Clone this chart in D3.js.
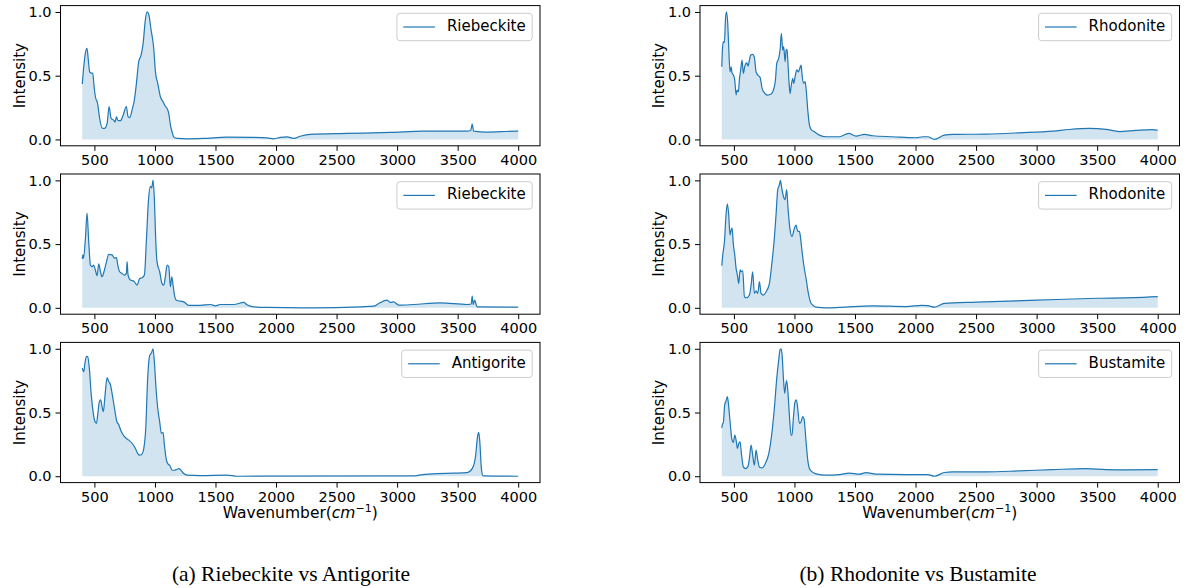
<!DOCTYPE html>
<html>
<head>
<meta charset="utf-8">
<script src="https://cdn.jsdelivr.net/npm/d3@7"></script>
<style>
  body { margin: 0; background: #fff; }
  svg text { font-family: "DejaVu Sans", sans-serif; }
</style>
</head>
<body>
<div id="chart"></div>
<script>
// spectra: [wavenumber, intensity]
var riebeckite1 = [[400,0.435],[412,0.57],[425,0.675],[439,0.715],[450,0.62],[461,0.53],[475,0.52],[486,0.52],[497,0.42],[508,0.335],[527,0.28],[541,0.18],[563,0.09],[583,0.086],[605,0.126],[621,0.257],[638,0.165],[660,0.15],[670,0.136],[682,0.178],[695,0.147],[715,0.147],[737,0.19],[764,0.257],[778,0.178],[792,0.17],[811,0.23],[830,0.31],[847,0.44],[866,0.61],[885,0.66],[902,0.75],[921,0.94],[935,1.0],[949,0.98],[968,0.86],[990,0.715],[1004,0.53],[1023,0.44],[1045,0.335],[1067,0.296],[1086,0.26],[1100,0.243],[1114,0.204],[1128,0.113],[1141,0.06],[1155,0.02],[1183,0.008],[1265,0.005],[1400,0.008],[1595,0.018],[1800,0.016],[1926,0.012],[1981,0.005],[2036,0.016],[2091,0.02],[2146,0.008],[2200,0.025],[2284,0.04],[2586,0.047],[2944,0.055],[3220,0.065],[3578,0.065],[3608,0.07],[3620,0.12],[3632,0.065],[3742,0.058],[3900,0.062],[4000,0.065]];

var riebeckite2 = [[400,0.383],[404,0.415],[410,0.39],[426,0.546],[439,0.743],[453,0.52],[467,0.336],[481,0.323],[494,0.336],[508,0.297],[522,0.252],[536,0.346],[550,0.283],[563,0.244],[583,0.297],[600,0.362],[618,0.42],[646,0.415],[665,0.39],[682,0.394],[693,0.336],[709,0.283],[728,0.27],[748,0.257],[764,0.27],[770,0.362],[778,0.257],[797,0.218],[825,0.21],[852,0.178],[874,0.23],[894,0.236],[913,0.257],[929,0.52],[946,0.835],[962,0.953],[973,0.94],[984,1.0],[995,0.86],[1006,0.546],[1017,0.362],[1039,0.283],[1059,0.19],[1073,0.178],[1086,0.244],[1100,0.336],[1114,0.323],[1128,0.165],[1139,0.244],[1150,0.178],[1161,0.1],[1177,0.06],[1210,0.052],[1238,0.047],[1279,0.02],[1375,0.02],[1458,0.026],[1500,0.016],[1540,0.026],[1650,0.026],[1733,0.042],[1760,0.024],[1816,0.008],[1926,0.003],[2300,0.0],[2700,0.008],[2807,0.013],[2848,0.034],[2917,0.06],[2945,0.042],[2972,0.047],[3013,0.021],[3137,0.026],[3357,0.039],[3578,0.026],[3612,0.03],[3620,0.092],[3628,0.026],[3640,0.06],[3661,0.008],[4000,0.005]];

var antigorite = [[400,0.848],[412,0.82],[420,0.874],[434,0.94],[445,0.937],[458,0.848],[472,0.664],[489,0.507],[503,0.433],[517,0.415],[527,0.48],[541,0.585],[552,0.6],[563,0.546],[574,0.507],[588,0.638],[605,0.774],[618,0.743],[632,0.72],[646,0.65],[668,0.52],[687,0.423],[700,0.407],[720,0.354],[748,0.31],[784,0.283],[819,0.249],[839,0.218],[858,0.178],[874,0.165],[894,0.176],[908,0.218],[924,0.375],[940,0.77],[957,0.948],[971,0.966],[984,1.0],[995,0.9],[1009,0.69],[1023,0.533],[1039,0.428],[1053,0.336],[1067,0.344],[1078,0.244],[1095,0.126],[1111,0.092],[1122,0.087],[1141,0.047],[1160,0.047],[1183,0.055],[1199,0.06],[1215,0.047],[1238,0.021],[1265,0.008],[1375,0.005],[1595,0.008],[1678,0.0],[3137,0.002],[3192,0.01],[3330,0.021],[3468,0.024],[3578,0.029],[3620,0.06],[3647,0.152],[3666,0.323],[3674,0.344],[3683,0.27],[3696,0.06],[3710,0.003],[4000,0.0]];

var rhodonite1 = [[400,0.57],[405,0.70],[413,0.767],[422,0.76],[430,0.937],[438,1.0],[449,0.91],[457,0.73],[468,0.53],[477,0.57],[485,0.52],[496,0.505],[507,0.466],[518,0.35],[526,0.387],[537,0.374],[545,0.466],[556,0.545],[567,0.623],[578,0.518],[589,0.57],[606,0.6],[617,0.576],[628,0.623],[639,0.662],[656,0.667],[669,0.644],[683,0.53],[697,0.505],[716,0.487],[733,0.4],[752,0.366],[779,0.348],[807,0.356],[826,0.387],[843,0.466],[854,0.597],[870,0.636],[881,0.70],[892,0.832],[903,0.70],[911,0.728],[923,0.61],[931,0.70],[939,0.707],[948,0.57],[956,0.44],[964,0.36],[972,0.413],[986,0.48],[994,0.44],[1005,0.49],[1019,0.545],[1033,0.53],[1044,0.557],[1055,0.584],[1063,0.505],[1077,0.44],[1088,0.453],[1096,0.4],[1110,0.23],[1124,0.113],[1137,0.079],[1165,0.06],[1206,0.034],[1261,0.021],[1371,0.021],[1448,0.047],[1509,0.026],[1578,0.039],[1647,0.029],[1812,0.021],[2005,0.013],[2060,0.021],[2100,0.021],[2156,0.0],[2238,0.034],[2307,0.039],[2582,0.042],[2857,0.052],[3133,0.065],[3270,0.078],[3435,0.086],[3573,0.079],[3683,0.062],[3820,0.071],[3950,0.077],[4000,0.073]];

var rhodonite2 = [[400,0.33],[408,0.415],[422,0.52],[435,0.73],[446,0.816],[457,0.73],[468,0.572],[477,0.61],[485,0.625],[496,0.493],[507,0.415],[518,0.31],[529,0.257],[540,0.19],[551,0.297],[562,0.283],[573,0.29],[587,0.087],[606,0.079],[628,0.1],[642,0.178],[655,0.283],[669,0.113],[683,0.131],[697,0.113],[711,0.205],[724,0.113],[744,0.1],[766,0.126],[793,0.19],[815,0.362],[834,0.546],[848,0.73],[862,0.927],[876,0.966],[884,1.0],[895,0.94],[909,0.874],[922,0.848],[936,0.927],[947,0.78],[964,0.61],[980,0.56],[1000,0.625],[1013,0.65],[1027,0.6],[1035,0.6],[1041,0.6],[1049,0.56],[1060,0.467],[1077,0.336],[1096,0.23],[1115,0.113],[1132,0.047],[1151,0.021],[1179,0.005],[1261,0.0],[1371,0.003],[1646,0.016],[1922,0.01],[2050,0.02],[2100,0.018],[2156,0.005],[2238,0.035],[2500,0.045],[3000,0.06],[3500,0.075],[3800,0.08],[4000,0.088]];

var bustamite = [[400,0.38],[405,0.407],[413,0.423],[424,0.559],[435,0.59],[446,0.625],[457,0.546],[471,0.4],[482,0.297],[496,0.265],[507,0.323],[518,0.283],[529,0.218],[540,0.257],[551,0.27],[562,0.178],[578,0.073],[595,0.06],[614,0.073],[628,0.139],[642,0.244],[655,0.165],[669,0.087],[683,0.205],[697,0.126],[711,0.071],[733,0.066],[760,0.1],[788,0.178],[815,0.35],[834,0.533],[854,0.77],[870,0.913],[881,0.992],[890,1.0],[898,0.953],[909,0.77],[920,0.65],[928,0.717],[936,0.75],[947,0.65],[958,0.48],[972,0.323],[980,0.323],[991,0.454],[1005,0.585],[1016,0.6],[1027,0.533],[1041,0.415],[1055,0.428],[1068,0.467],[1079,0.45],[1096,0.27],[1110,0.126],[1124,0.06],[1146,0.034],[1179,0.018],[1261,0.008],[1371,0.013],[1454,0.024],[1536,0.016],[1591,0.029],[1674,0.016],[1922,0.013],[2032,0.013],[2100,0.013],[2156,0.0],[2238,0.029],[2307,0.034],[2582,0.034],[2857,0.042],[3133,0.052],[3408,0.06],[3573,0.052],[3738,0.05],[4000,0.052]];

var leftSeries = [riebeckite1, riebeckite2, antigorite];
var rightSeries = [rhodonite1, rhodonite2, bustamite];
var leftNames = ["Riebeckite", "Riebeckite", "Antigorite"];
var rightNames = ["Rhodonite", "Rhodonite", "Bustamite"];
var captions = ["(a) Riebeckite vs Antigorite", "(b) Rhodonite vs Bustamite"];
var xTicks = [500, 1000, 1500, 2000, 2500, 3000, 3500, 4000];
var yTicks = [0, 0.5, 1.0];

var blue = "#1f77b4";
var panelW = 479.5, panelH = 140.2;
var colX = [60.5, 700];
var rowY = [5.6, 174, 342.4];

var svg = d3.select("#chart")
  .append("svg")
    .attr("width", 1186)
    .attr("height", 588);

var x = d3.scaleLinear().domain([220, 4180]).range([0, panelW]);
var y = d3.scaleLinear().domain([-0.05, 1.05]).range([panelH, 0]);

var area = d3.area()
  .curve(d3.curveMonotoneX)
  .x(function(d) { return x(d[0]); })
  .y0(y(0))
  .y1(function(d) { return y(d[1]); });

var line = d3.line()
  .curve(d3.curveMonotoneX)
  .x(function(d) { return x(d[0]); })
  .y(function(d) { return y(d[1]); });

function drawPanel(col, row, data, name) {
  var g = svg.append("g")
    .attr("transform", "translate(" + colX[col] + "," + rowY[row] + ")");

  g.append("path")
    .datum(data)
    .attr("d", area)
    .attr("fill", blue)
    .attr("fill-opacity", 0.2);

  g.append("path")
    .datum(data)
    .attr("d", line)
    .attr("fill", "none")
    .attr("stroke", blue)
    .attr("stroke-width", 1.2);

  // axes
  var xa = g.append("g")
    .attr("transform", "translate(0," + panelH + ")")
    .call(d3.axisBottom(x).tickValues(xTicks).tickSize(5).tickPadding(4).tickFormat(d3.format("d")));
  var ya = g.append("g")
    .call(d3.axisLeft(y).tickValues(yTicks).tickSize(5).tickPadding(4).tickFormat(d3.format(".1f")));
  [xa, ya].forEach(function(a) {
    a.select(".domain").remove();
    a.selectAll("line").attr("stroke", "#000").attr("stroke-width", 1);
    a.selectAll("text")
      .attr("fill", "#000")
      .style("font-size", "14.5px")
      .style("font-family", "DejaVu Sans");
  });

  g.append("rect")
    .attr("width", panelW)
    .attr("height", panelH)
    .attr("fill", "none")
    .attr("stroke", "#000")
    .attr("stroke-width", 1);

  // y label
  g.append("text")
    .attr("transform", "translate(" + (-36) + "," + (panelH / 2) + ")rotate(-90)")
    .attr("text-anchor", "middle")
    .style("font-size", "15px")
    .text("Intensity");

  // legend
  var leg = g.append("g");
  var box = leg.append("rect")
    .attr("rx", 3).attr("ry", 3)
    .attr("fill", "#fff").attr("fill-opacity", 0.8)
    .attr("stroke", "#cccccc").attr("stroke-width", 1);
  var txt = leg.append("text")
    .attr("y", 25.7 - 5.6 + 5.3)
    .style("font-size", "15px")
    .text(name);
  var tw = txt.node().getComputedTextLength();
  var bw = 50 + tw + 6.5;
  var bx = panelW - 7.8 - bw;
  box.attr("x", bx).attr("y", 7.7).attr("width", bw).attr("height", 27.4);
  txt.attr("x", bx + 50);
  leg.append("line")
    .attr("x1", bx + 6.4).attr("x2", bx + 38)
    .attr("y1", 7.7 + 13.7).attr("y2", 7.7 + 13.7)
    .attr("stroke", blue).attr("stroke-width", 1.2);
}

leftSeries.forEach(function(s, i) { drawPanel(0, i, s, leftNames[i]); });
rightSeries.forEach(function(s, i) { drawPanel(1, i, s, rightNames[i]); });

// x labels under the bottom panels
colX.forEach(function(cx) {
  var t = svg.append("text")
    .attr("x", cx + panelW / 2)
    .attr("y", 518)
    .attr("text-anchor", "middle")
    .style("font-size", "15.5px");
  t.append("tspan").text("Wavenumber(");
  t.append("tspan").style("font-style", "italic").text("cm");
  t.append("tspan").attr("dy", -6).style("font-size", "11px").text("\u22121");
  t.append("tspan").attr("dy", 6).text(")");
});

// captions
svg.selectAll(".caption")
  .data(captions)
  .enter()
  .append("text")
    .attr("class", "caption")
    .attr("x", function(d, i) { return i == 0 ? 291 : 918; })
    .attr("y", 581)
    .attr("text-anchor", "middle")
    .style("font-family", "Liberation Serif, serif")
    .style("font-size", "21.5px")
    .text(function(d) { return d; });
</script>
</body>
</html>
